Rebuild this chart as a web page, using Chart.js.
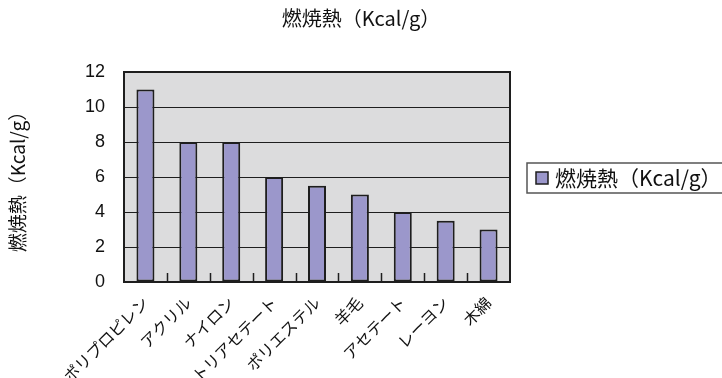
<!DOCTYPE html>
<html>
<head>
<meta charset="utf-8">
<script src="https://cdn.jsdelivr.net/npm/chart.js@4/dist/chart.umd.min.js"></script>
<style>
  html, body { margin: 0; padding: 0; background: #fff; }
  #wrap { width: 722px; height: 378px; }
</style>
</head>
<body>
<div id="wrap"><canvas id="heatChart"></canvas></div>
<script>
// 繊維ごとの燃焼熱
const fibers = ['ポリプロピレン', 'アクリル', 'ナイロン', 'トリアセテート', 'ポリエステル', '羊毛', 'アセテート', 'レーヨン', '木綿'];
const heatValues = [11, 8, 8, 6, 5.5, 5, 4, 3.5, 3];
const yTicks = [0, 2, 4, 6, 8, 10, 12];
const seriesLabel = '燃焼熱（Kcal/g）';

const FONT = '"Liberation Sans", "Noto Sans CJK JP", sans-serif';
const JP_FONT = '"Noto Sans CJK JP", "Liberation Sans", sans-serif';
const BAR_FILL = '#9b97cb';
const INK = '#1e1e1e';

// 灰色の背景、枠線、区切りの目盛り、凡例を描く
const plotFrame = {
    id: 'plotFrame',
    beforeDraw(chart) {
        const { ctx, chartArea: { left, top, width, height } } = chart;
        ctx.save();
        ctx.fillStyle = '#dcdcdd';
        ctx.fillRect(left, top, width, height);
        ctx.restore();
    },
    afterDatasetsDraw(chart) {
        const { ctx, chartArea: { left, top, width, height, bottom }, scales: { x } } = chart;
        ctx.save();
        ctx.strokeStyle = INK;
        ctx.lineWidth = 1.5;
        for (let i = 1; i < fibers.length; i++) {
            const px = Math.round((x.getPixelForValue(i - 1) + x.getPixelForValue(i)) / 2) + 0.5;
            ctx.beginPath();
            ctx.moveTo(px, bottom);
            ctx.lineTo(px, bottom - 9);
            ctx.stroke();
        }
        ctx.lineWidth = 2;
        ctx.strokeRect(left, top, width, height);

        // 凡例
        const ds = chart.data.datasets[0];
        const lx = 527, ly = 163;
        ctx.fillStyle = '#ffffff';
        ctx.fillRect(lx, ly, 200, 30);
        ctx.strokeStyle = '#555';
        ctx.lineWidth = 1.5;
        ctx.strokeRect(lx, ly, 200, 30);
        ctx.fillStyle = ds.backgroundColor;
        ctx.fillRect(536, 172, 12, 12);
        ctx.strokeStyle = INK;
        ctx.lineWidth = 1.5;
        ctx.strokeRect(536, 172, 12, 12);
        ctx.fillStyle = '#111';
        ctx.font = '21px ' + JP_FONT;
        ctx.textBaseline = 'middle';
        ctx.textAlign = 'left';
        ctx.fillText(ds.label, 555, 178);
        ctx.restore();
    }
};

new Chart(document.getElementById('heatChart'), {
    type: 'bar',
    data: {
        labels: fibers,
        datasets: [{
            label: seriesLabel,
            data: heatValues,
            backgroundColor: BAR_FILL,
            borderColor: INK,
            borderWidth: 2,
            borderSkipped: false,
            barPercentage: 0.42,
            categoryPercentage: 1
        }]
    },
    options: {
        responsive: true,
        maintainAspectRatio: false,
        animation: false,
        layout: { padding: 0 },
        scales: {
            x: {
                grid: { display: false },
                border: { display: false },
                ticks: {
                    color: '#111',
                    font: { family: JP_FONT, size: 16 },
                    minRotation: 45,
                    maxRotation: 45,
                    autoSkip: false,
                    padding: 3
                },
                afterFit(scale) { scale.height = 96; }
            },
            y: {
                min: 0,
                max: 12,
                afterBuildTicks(scale) { scale.ticks = yTicks.map(v => ({ value: v })); },
                grid: { color: INK, lineWidth: 1, drawTicks: false },
                border: { display: false },
                ticks: {
                    color: '#111',
                    font: { family: FONT, size: 18 },
                    padding: 19
                },
                title: {
                    display: true,
                    text: seriesLabel,
                    color: '#111',
                    font: { family: JP_FONT, size: 19 },
                    padding: { top: 6, bottom: 0 }
                },
                afterFit(scale) { scale.width = 124; }
            },
            // 凡例の場所を空けておくための軸
            side: {
                type: 'linear',
                position: 'right',
                grid: { display: false },
                border: { display: false },
                ticks: { display: false },
                afterFit(scale) { scale.width = 212; }
            }
        },
        plugins: {
            legend: { display: false },
            tooltip: { enabled: false },
            title: {
                display: true,
                text: seriesLabel,
                color: '#111',
                font: { family: JP_FONT, size: 20, weight: 'normal' },
                padding: { top: 6, bottom: 42 }
            }
        }
    },
    plugins: [plotFrame]
});
</script>
</body>
</html>
